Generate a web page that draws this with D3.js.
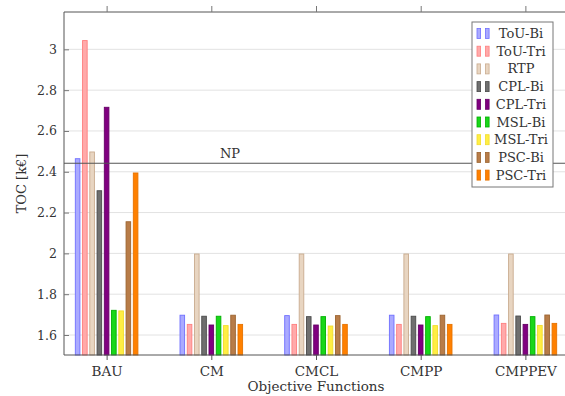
<!DOCTYPE html>
<html>
<head>
<meta charset="utf-8">
<script src="https://cdnjs.cloudflare.com/ajax/libs/d3/7.8.5/d3.min.js"></script>
<style>
  body { margin: 0; background: #fff; }
  svg text { font-family: "DejaVu Serif", "Liberation Serif", serif; }
</style>
</head>
<body>
<div id="chart"></div>
<script>
const categories = ["BAU", "CM", "CMCL", "CMPP", "CMPPEV"];
const seriesNames = ["ToU-Bi", "ToU-Tri", "RTP", "CPL-Bi", "CPL-Tri", "MSL-Bi", "MSL-Tri", "PSC-Bi", "PSC-Tri"];
// one row per series, one value per category (k€)
const touBi  = [2.464, 1.697, 1.695, 1.697, 1.698];
const touTri = [3.043, 1.652, 1.652, 1.652, 1.657];
const rtp    = [2.497, 1.997, 1.997, 1.997, 1.997];
const cplBi  = [2.307, 1.692, 1.690, 1.692, 1.693];
const cplTri = [2.716, 1.649, 1.649, 1.649, 1.652];
const mslBi  = [1.721, 1.692, 1.690, 1.690, 1.690];
const mslTri = [1.718, 1.646, 1.644, 1.646, 1.647];
const pscBi  = [2.155, 1.697, 1.695, 1.697, 1.698];
const pscTri = [2.394, 1.652, 1.652, 1.652, 1.657];
const npValue = 2.442;
const yTicks = [1.6, 1.8, 2, 2.2, 2.4, 2.6, 2.8, 3];

const series = [touBi, touTri, rtp, cplBi, cplTri, mslBi, mslTri, pscBi, pscTri];
const fills   = ["#aaaaff", "#ffaaaa", "#e8d5c1", "#6f6f6f", "#800080", "#19d719", "#ffee44", "#b87c48", "#ff8000"];
const strokes = ["#6f6fff", "#ff7f7f", "#c9ab8e", "#4a4a4a", "#660066", "#00b000", "#f2dc2c", "#9c6430", "#e67300"];

const width = 565, height = 396;
const margin = { top: 12, right: -3, bottom: 41, left: 64 };
const fontSize = 13;
const textColor = "#333";

const x = d3.scaleLinear()
  .domain([-0.407, categories.length - 1 + 0.407])
  .range([margin.left, width - margin.right]);
const y = d3.scaleLinear()
  .domain([1.502, 3.183])
  .range([height - margin.bottom, margin.top]);

const barStep = 7.25, barW = 4.6;

const svg = d3.select("#chart").append("svg")
  .attr("width", width)
  .attr("height", height);

// grid
svg.append("g")
  .selectAll("line")
  .data(yTicks)
  .join("line")
  .attr("x1", margin.left).attr("x2", width)
  .attr("y1", d => y(d)).attr("y2", d => y(d))
  .attr("stroke", "#e2e2e2").attr("stroke-width", 1);

// bars
series.forEach((vals, s) => {
  svg.append("g")
    .selectAll("rect")
    .data(vals)
    .join("rect")
    .attr("x", (d, i) => x(i) + (s - 4) * barStep - barW / 2)
    .attr("width", barW)
    .attr("y", d => y(d))
    .attr("height", d => y.range()[0] - y(d))
    .attr("fill", fills[s])
    .attr("stroke", strokes[s])
    .attr("stroke-width", 0.9);
});

// NP line
svg.append("line")
  .attr("x1", margin.left).attr("x2", width)
  .attr("y1", y(npValue)).attr("y2", y(npValue))
  .attr("stroke", "#555").attr("stroke-width", 1.1);
svg.append("text")
  .attr("x", 230).attr("y", y(npValue) - 5)
  .attr("text-anchor", "middle")
  .attr("font-size", fontSize)
  .attr("fill", textColor)
  .text("NP");

// frame
const x0 = margin.left, x1 = width - margin.right;
const yb = y.range()[0], yt = y.range()[1];
svg.append("path")
  .attr("d", `M${x1},${yt}H${x0}V${yb}H${x1}`)
  .attr("fill", "none").attr("stroke", "#555").attr("stroke-width", 1);

// axes
const xAxis = d3.axisBottom(x).tickValues(d3.range(categories.length))
  .tickFormat(i => categories[i]).tickSize(5).tickPadding(6);
svg.append("g")
  .attr("transform", `translate(0,${yb})`)
  .call(xAxis)
  .attr("font-family", null)
  .call(g => g.select(".domain").remove())
  .call(g => g.selectAll("line").attr("stroke", "#555"))
  .call(g => g.selectAll("text").attr("font-size", 13.5).attr("fill", textColor));

svg.append("g")
  .attr("transform", `translate(0,${yt})`)
  .call(d3.axisTop(x).tickValues(d3.range(categories.length)).tickFormat("").tickSize(6))
  .call(g => g.select(".domain").remove())
  .call(g => g.selectAll("line").attr("stroke", "#777"));

svg.append("g")
  .attr("transform", `translate(${x0},0)`)
  .call(d3.axisRight(y).tickValues(yTicks).tickFormat("").tickSize(5))
  .call(g => g.select(".domain").remove())
  .call(g => g.selectAll("line").attr("stroke", "#777"));

svg.append("g")
  .attr("transform", `translate(${x0},0)`)
  .call(d3.axisLeft(y).tickValues(yTicks).tickFormat(d => d3.format("")(d)).tickSize(0).tickPadding(7))
  .attr("font-family", null)
  .call(g => g.select(".domain").remove())
  .call(g => g.selectAll("text").attr("font-size", 12.5).attr("fill", textColor));

// axis labels
svg.append("text")
  .attr("transform", `translate(26,${(yt + yb) / 2}) rotate(-90)`)
  .attr("text-anchor", "middle")
  .attr("font-size", fontSize)
  .attr("fill", textColor)
  .text("TOC [k€]");
svg.append("text")
  .attr("x", (x0 + 568) / 2).attr("y", 391)
  .attr("text-anchor", "middle")
  .attr("font-size", 13.5)
  .attr("fill", textColor)
  .text("Objective Functions");

// legend
const lg = svg.append("g").attr("transform", "translate(472,22)");
lg.append("rect")
  .attr("width", 81).attr("height", 165)
  .attr("fill", "#fff").attr("stroke", "#777").attr("stroke-width", 1);
seriesNames.forEach((name, s) => {
  const row = lg.append("g").attr("transform", `translate(0,${11.5 + s * 17.7})`);
  [5, 13.5].forEach(dx => {
    row.append("rect")
      .attr("x", dx).attr("y", -5).attr("width", 3.6).attr("height", 10)
      .attr("fill", fills[s]).attr("stroke", strokes[s]).attr("stroke-width", 0.8);
  });
  row.append("text")
    .attr("x", 49).attr("y", 4.5)
    .attr("text-anchor", "middle")
    .attr("font-size", fontSize)
    .attr("fill", textColor)
    .text(name);
});
</script>
</body>
</html>
